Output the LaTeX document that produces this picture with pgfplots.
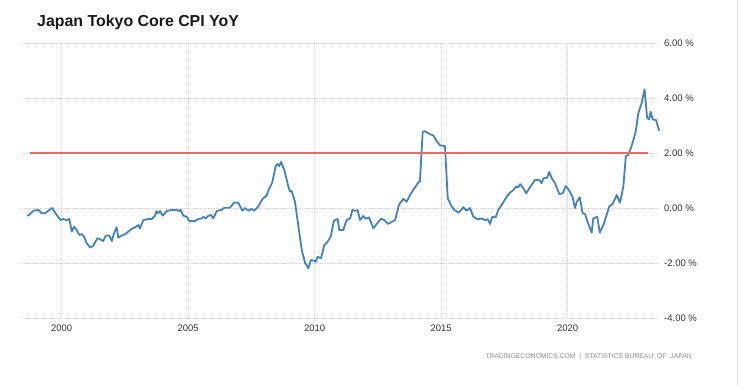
\documentclass[border=0pt]{standalone}
\usepackage{pgfplots}
\pgfplotsset{compat=1.18}
\usepackage{fontspec}
\setmainfont{Liberation Sans}
\definecolor{lineblue}{RGB}{70,130,180}
\definecolor{targetred}{RGB}{232,106,106}
\definecolor{gridgray}{RGB}{210,210,210}
\definecolor{labelgray}{RGB}{51,51,51}
\definecolor{srcgray}{RGB}{140,140,140}
\begin{document}
\begin{tikzpicture}
\path[use as bounding box] (0bp,0bp) rectangle (740bp,385bp);
\draw[gray!20, line width=1bp] (737.5bp,0bp) -- (737.5bp,385bp);
\begin{axis}[
  at={(20bp,67bp)}, anchor=south west,
  scale only axis, width=640bp, height=275bp,
  xmin=1998.352, xmax=2023.65, ymin=-4, ymax=6,
  axis line style={draw=none},
  major tick length=0pt,
  xtick={2000,2005,2010,2015,2020},
  xticklabels={2000,2005,2010,2015,2020},
  ytick={-4,-2,0,2,4,6},
  yticklabels={-4.00 \%,-2.00 \%,0.00 \%,2.00 \%,4.00 \%,6.00 \%},
  yticklabel pos=right,
  grid=major,
  major grid style={gridgray, line width=0.6bp, dash pattern=on 0.6bp off 1.4bp},
  tick label style={font=\fontsize{9.5bp}{11bp}\selectfont, text=labelgray},
  xticklabel style={anchor=north, inner sep=0pt, yshift=-6.6bp},
  yticklabel style={anchor=west, inner sep=0pt, xshift=4bp},
]
\addplot[lineblue, line width=1.8bp, line join=round] coordinates {
(1998.64,-0.29) (1998.75,-0.22) (1998.88,-0.10) (1999.08,-0.07) (1999.21,-0.19)
(1999.34,-0.19) (1999.47,-0.10) (1999.63,0.00) (1999.67,-0.07) (1999.80,-0.25)
(1999.96,-0.44) (2000.06,-0.40) (2000.20,-0.44) (2000.30,-0.40) (2000.40,-0.86)
(2000.49,-0.68) (2000.59,-0.80) (2000.70,-0.98) (2000.79,-0.95) (2000.88,-1.04)
(2000.99,-1.28) (2001.12,-1.44) (2001.25,-1.37) (2001.41,-1.10) (2001.51,-1.13)
(2001.64,-1.20) (2001.75,-1.00) (2001.88,-1.00) (2001.98,-1.20) (2002.07,-0.92)
(2002.17,-0.70) (2002.24,-1.08) (2002.37,-1.00) (2002.50,-0.96) (2002.63,-0.86)
(2002.77,-0.76) (2002.90,-0.70) (2003.03,-0.62) (2003.09,-0.74) (2003.23,-0.44)
(2003.42,-0.40) (2003.56,-0.40) (2003.69,-0.28) (2003.75,-0.11) (2003.82,-0.19)
(2003.89,-0.11) (2003.99,-0.28) (2004.15,-0.11) (2004.35,-0.07) (2004.55,-0.07)
(2004.65,-0.11) (2004.70,-0.07) (2004.81,-0.28) (2004.94,-0.32) (2005.04,-0.47)
(2005.27,-0.47) (2005.40,-0.40) (2005.53,-0.38) (2005.60,-0.32) (2005.69,-0.38)
(2005.79,-0.29) (2005.90,-0.25) (2005.99,-0.38) (2006.13,-0.11) (2006.32,-0.07)
(2006.43,0.01) (2006.65,0.01) (2006.82,0.20) (2006.98,0.19) (2007.14,-0.10)
(2007.25,0.00) (2007.38,-0.10) (2007.51,-0.03) (2007.61,-0.10) (2007.77,0.05)
(2007.93,0.32) (2008.11,0.47) (2008.19,0.68) (2008.32,0.92) (2008.46,1.53)
(2008.54,1.60) (2008.60,1.52) (2008.67,1.68) (2008.80,1.38) (2008.96,0.78)
(2009.02,0.60) (2009.09,0.62) (2009.22,0.23) (2009.35,-0.62) (2009.49,-1.53)
(2009.62,-1.99) (2009.75,-2.19) (2009.85,-1.89) (2009.98,-1.92) (2010.04,-1.96)
(2010.12,-1.77) (2010.25,-1.83) (2010.38,-1.35) (2010.51,-1.23) (2010.64,-1.02)
(2010.76,-0.46) (2010.91,-0.40) (2010.97,-0.80) (2011.13,-0.80) (2011.26,-0.44)
(2011.40,-0.38) (2011.49,-0.07) (2011.59,-0.10) (2011.70,-0.08) (2011.79,-0.44)
(2011.92,-0.29) (2012.02,-0.39) (2012.15,-0.34) (2012.32,-0.74) (2012.45,-0.58)
(2012.62,-0.39) (2012.75,-0.44) (2012.91,-0.58) (2013.05,-0.50) (2013.18,-0.44)
(2013.33,0.11) (2013.50,0.33) (2013.64,0.23) (2013.77,0.47) (2013.94,0.72)
(2014.10,0.93) (2014.16,0.97) (2014.27,2.77) (2014.36,2.79) (2014.56,2.68)
(2014.69,2.64) (2014.82,2.44) (2014.95,2.28) (2015.15,2.25) (2015.26,0.35)
(2015.39,0.10) (2015.52,-0.07) (2015.68,-0.17) (2015.81,-0.05) (2015.87,0.03)
(2016.01,-0.10) (2016.14,0.00) (2016.27,-0.32) (2016.44,-0.41) (2016.60,-0.38)
(2016.73,-0.44) (2016.84,-0.41) (2016.93,-0.58) (2017.02,-0.32) (2017.15,-0.34)
(2017.26,-0.07) (2017.39,0.11) (2017.59,0.41) (2017.72,0.56) (2017.85,0.65)
(2017.96,0.78) (2018.05,0.75) (2018.12,0.87) (2018.25,0.72) (2018.36,0.53)
(2018.48,0.71) (2018.71,1.02) (2018.88,1.02) (2018.97,0.90) (2019.04,1.08)
(2019.19,1.10) (2019.27,1.31) (2019.37,1.08) (2019.50,0.90) (2019.67,0.51)
(2019.80,0.53) (2019.93,0.80) (2020.06,0.63) (2020.19,0.41) (2020.29,0.00)
(2020.35,0.20) (2020.48,0.39) (2020.59,-0.19) (2020.68,-0.21) (2020.81,-0.56)
(2020.95,-0.90) (2021.01,-0.38) (2021.17,-0.32) (2021.27,-0.90) (2021.43,-0.58)
(2021.54,-0.25) (2021.64,0.05) (2021.78,0.15) (2021.94,0.47) (2022.07,0.19)
(2022.20,0.78) (2022.30,1.89) (2022.39,1.92) (2022.52,2.23) (2022.69,2.77)
(2022.79,3.44) (2022.92,3.80) (2023.04,4.31) (2023.14,3.28) (2023.22,3.22)
(2023.28,3.50) (2023.36,3.22) (2023.49,3.20) (2023.62,2.81)
};
\addplot[targetred, line width=1.6bp] coordinates {(1998.75,2) (2023.17,2)};
\end{axis}
\node[anchor=base west, inner sep=0pt, font=\fontsize{15.9bp}{18bp}\selectfont\bfseries, text=black!90] at (37bp,358bp) {Japan Tokyo Core CPI YoY};
\node[anchor=base east, inner sep=0pt, font=\fontsize{6.8bp}{8bp}\selectfont, text=srcgray] at (692bp,27bp) {TRADINGECONOMICS.COM \ | \ STATISTICS BUREAU \ OF \ JAPAN};
\end{tikzpicture}
\end{document}
